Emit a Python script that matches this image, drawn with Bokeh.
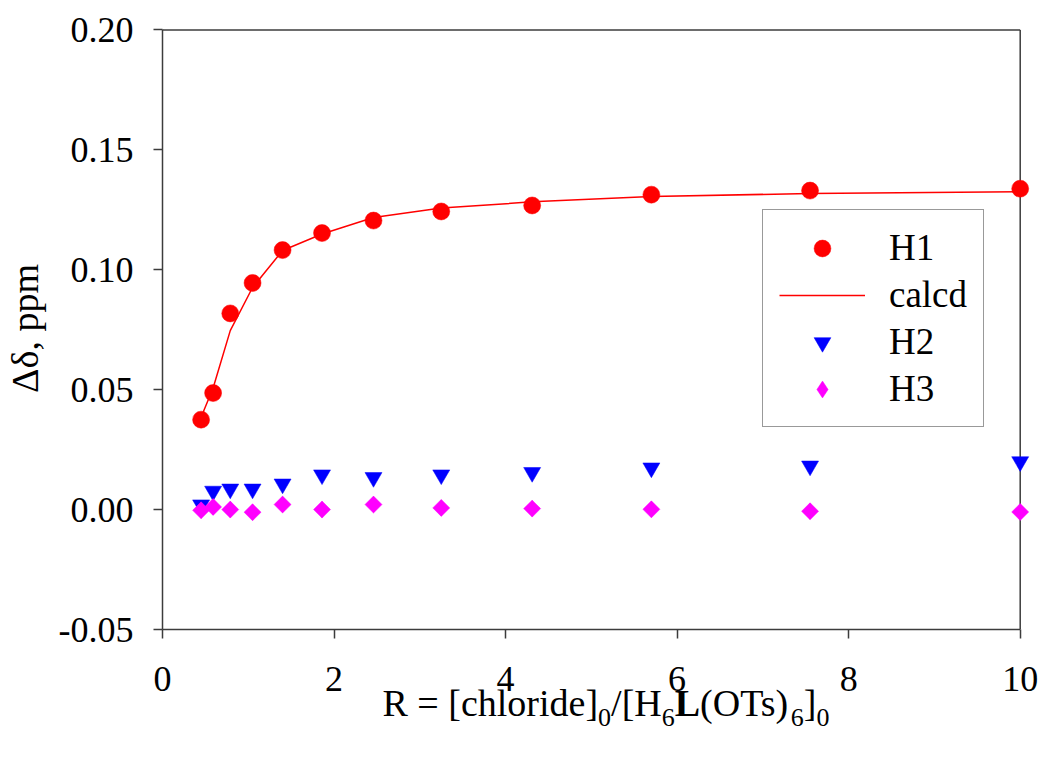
import math
from bokeh.plotting import figure
from bokeh.layouts import column
from bokeh.models import (Range1d, Label, Legend, LegendItem, FixedTicker,
                          NumeralTickFormatter, ColumnDataSource)
from bokeh.embed import file_html
from bokeh.resources import INLINE

# ---------------- data ----------------
R_vals = [0.45, 0.59, 0.79, 1.05, 1.40, 1.86, 2.46, 3.25, 4.31, 5.70, 7.55, 10.0]
h1 = [0.0375, 0.0486, 0.0818, 0.0945, 0.1082, 0.1153, 0.1205, 0.1243, 0.1268, 0.1313, 0.1330, 0.1338]
calcd = [0.0385, 0.0507, 0.0746, 0.0926, 0.1080, 0.1149, 0.1218, 0.1257, 0.1283, 0.1305, 0.1318, 0.1325]
h2 = [0.0020, 0.0077, 0.0086, 0.0086, 0.0107, 0.0145, 0.0134, 0.0145, 0.0155, 0.0174, 0.0182, 0.0200]
h3 = [-0.0003, 0.0011, 0.0000, -0.0011, 0.0021, 0.0000, 0.0021, 0.0007, 0.0004, 0.0001, -0.0007, -0.0010]
x_ticks = [0, 2, 4, 6, 8, 10]
y_ticks = [-0.05, 0.00, 0.05, 0.10, 0.15, 0.20]
X_MIN, X_MAX = 0, 10
Y_MIN, Y_MAX = -0.05, 0.20
legend_labels = ["H1", "calcd", "H2", "H3"]
y_title = "Δδ, ppm"

FONT = "Liberation Serif"
AXIS_COLOR = "#3c3c3c"
BORDER_L, BORDER_R, BORDER_T, BORDER_B = 161, 1, 27, 100
FRAME_W, FRAME_H = 880, 602
W_TOTAL = BORDER_L + FRAME_W + BORDER_R

# ---------------- main plot ----------------
p = figure(frame_width=FRAME_W, frame_height=FRAME_H,
           x_range=Range1d(X_MIN, 10.26), y_range=Range1d(Y_MIN, 0.201),
           min_border_left=BORDER_L, min_border_right=BORDER_R, min_border_top=BORDER_T,
           min_border_bottom=BORDER_B, output_backend="svg", toolbar_location=None)
p.outline_line_color = None
p.xgrid.visible = False
p.ygrid.visible = False

for ax in (p.xaxis[0], p.yaxis[0]):
    ax.axis_line_color = AXIS_COLOR
    ax.axis_line_width = 1.5
    ax.major_tick_line_color = AXIS_COLOR
    ax.major_tick_line_width = 1.5
    ax.major_tick_out = 9
    ax.major_tick_in = 0
    ax.minor_tick_line_color = None
    ax.major_label_text_font = FONT
    ax.major_label_text_font_size = "36px"
    ax.major_label_text_color = "black"
    ax.major_label_standoff = 20
p.xaxis.major_label_standoff = 28

p.yaxis.axis_label = y_title
p.yaxis.axis_label_text_font = FONT
p.yaxis.axis_label_text_font_size = "38px"
p.yaxis.axis_label_text_font_style = "normal"
p.yaxis.axis_label_text_color = "black"
p.yaxis.axis_label_standoff = 10

p.xaxis.ticker = FixedTicker(ticks=x_ticks)
p.yaxis.ticker = FixedTicker(ticks=y_ticks)
p.yaxis.formatter = NumeralTickFormatter(format="0.00")
p.xaxis.bounds = (X_MIN, X_MAX)
p.yaxis.bounds = (Y_MIN, Y_MAX)

# frame lines on top and right, at the axis limits
p.segment(x0=[X_MIN, X_MAX], y0=[Y_MAX, Y_MIN], x1=[X_MAX, X_MAX], y1=[Y_MAX, Y_MAX],
          line_color=AXIS_COLOR, line_width=1.5)

src = ColumnDataSource(dict(x=R_vals, h1=h1, calcd=calcd, h2=h2, h3=h3))
r_calc = p.line("x", "calcd", source=src, line_color="#ff0000", line_width=1.5)
r_h1 = p.scatter("x", "h1", source=src, marker="circle", size=17,
                 fill_color="#ff0000", line_color="#ff0000", line_width=0.5)
r_h2 = p.scatter("x", "h2", source=src, marker="inverted_triangle", size=17,
                 fill_color="#0000ff", line_color="#0000ff", line_width=0.5)
# H3: diamond layer (used as legend key, since legend keys are never rotated),
# covered exactly by the square-diamond markers drawn on top of it
r_h3_key = p.scatter("x", "h3", source=src, marker="diamond", size=16,
                     fill_color="#ff00ff", line_color="#ff00ff", line_width=0.5)
r_h3 = p.scatter("x", "h3", source=src, marker="square", size=12, angle=math.pi / 4,
                 fill_color="#ff00ff", line_color="#ff00ff", line_width=0.5)

legend = Legend(items=[LegendItem(label=legend_labels[0], renderers=[r_h1]),
                       LegendItem(label=legend_labels[1], renderers=[r_calc]),
                       LegendItem(label=legend_labels[2], renderers=[r_h2]),
                       LegendItem(label=legend_labels[3], renderers=[r_h3_key])],
                location=(600, 202), glyph_width=86, glyph_height=42, spacing=4,
                padding=16, label_standoff=24, label_text_font=FONT,
                label_text_font_size="37px", label_text_color="black",
                border_line_color="#333333", border_line_width=1.5,
                background_fill_color="white", background_fill_alpha=1.0, margin=0)
p.add_layout(legend, "center")

# ---------------- transparent overlay carrying the x-axis title ----------------
# (its frame is aligned with the main frame: x measured from the left axis)
H_OVER = 760
t = figure(width=W_TOTAL, height=H_OVER, x_range=Range1d(0, FRAME_W),
           y_range=Range1d(0, H_OVER), min_border=0, output_backend="svg",
           toolbar_location=None, x_axis_location=None, y_axis_location=None)
t.xgrid.visible = False
t.ygrid.visible = False
t.outline_line_color = None
t.background_fill_alpha = 0
t.border_fill_alpha = 0
t.margin = (-(BORDER_T + FRAME_H + BORDER_B), 0, 0, 0)

W = {'R': 667, ' ': 250, '=': 564, '[': 333, 'c': 444, 'h': 500, 'l': 278, 'o': 500,
     'r': 333, 'i': 278, 'd': 500, 'e': 444, ']': 333, '0': 500, '/': 278, 'H': 722,
     '6': 500, '(': 333, 'O': 722, 'T': 611, 's': 389, ')': 333, 'L': 667}
MAIN, SUB = 38, 26
DESC = 0.216
pieces = [("R = [chloride]", MAIN, "normal", 0), ("0", SUB, "normal", 5),
          ("/[H", MAIN, "normal", 0), ("6", SUB, "normal", 5),
          ("L", MAIN, "bold", 0), ("(OTs)", MAIN, "normal", 0),
          ("6", SUB, "normal", 5), ("]", MAIN, "normal", 0), ("0", SUB, "normal", 5)]
cx = 381.0 - BORDER_L
BASELINE = 715
for txt, size, style, dy in pieces:
    y_bottom = BASELINE + dy + DESC * size
    t.add_layout(Label(x=cx, y=H_OVER - y_bottom, x_units="screen", y_units="screen",
                       text=txt, text_font=FONT, text_font_size=f"{size}px",
                       text_font_style=style, text_color="black",
                       text_align="left", text_baseline="bottom"))
    cx += sum(W[c] for c in txt) * size / 1000.0

layout = column(p, t, spacing=0)
open("out.html", "w").write(file_html(layout, INLINE))
